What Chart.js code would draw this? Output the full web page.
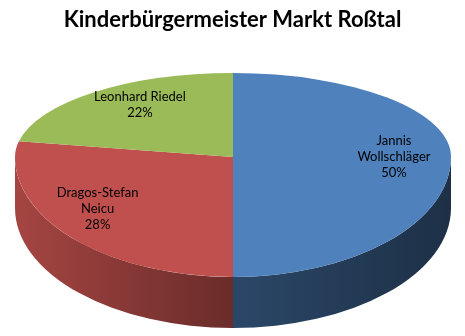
<!DOCTYPE html>
<html lang="de">
<head>
  <meta charset="UTF-8" />
  <title>Kinderbürgermeister Markt Roßtal</title>
  <script src="https://cdn.jsdelivr.net/npm/chart.js"></script>
  <style>
    body { margin: 0; background: #fff; }
    #wrap { width: 465px; height: 336px; }
  </style>
</head>
<body>
  <div id="wrap"><canvas id="pie" width="465" height="336"></canvas></div>

  <script>
    // data
    const candidates = [['Jannis', 'Wollschläger'], ['Dragos-Stefan', 'Neicu'], ['Leonhard Riedel']];
    const shares = [50, 28, 22];
    const sliceColors = ['#4f81bd', '#c0504d', '#9bbb59'];

    // tilted pie on screen: back half is flatter than the front half (perspective)
    const ell = { cx: 233, cy: 157, rx: 218, ryBack: 84, ryFront: 120, depth: 51, persp: 0.1765 };

    function shade(hex, f) {
      const n = parseInt(hex.slice(1), 16);
      const r = Math.round(((n >> 16) & 255) * f);
      const g = Math.round(((n >> 8) & 255) * f);
      const b = Math.round((n & 255) * f);
      return `rgb(${r},${g},${b})`;
    }

    function squash(ctx, arc, ry) {
      const r = arc.outerRadius;
      ctx.translate(ell.cx, ell.cy);
      ctx.scale(ell.rx / r, ry / r);
      ctx.translate(-arc.x, -arc.y);
    }

    const pie3d = {
      id: 'pie3d',
      beforeDatasetsDraw(chart) {
        const ctx = chart.ctx;
        const arcs = chart.getDatasetMeta(0).data;
        const { x, y, outerRadius: r } = arcs[0];

        // side wall, only the front half shows
        ctx.save();
        squash(ctx, arcs[0], ell.ryFront);
        const d = ell.depth * r / ell.ryFront;
        arcs.forEach((arc, i) => {
          const s = Math.max(arc.startAngle, 0);
          const e = Math.min(arc.endAngle, Math.PI);
          if (s >= e) return;
          const grad = ctx.createLinearGradient(x - r, 0, x + r, 0);
          grad.addColorStop(0, shade(sliceColors[i], 0.86));
          grad.addColorStop(0.5, shade(sliceColors[i], 0.55));
          grad.addColorStop(1, shade(sliceColors[i], 0.37));
          ctx.beginPath();
          ctx.arc(x, y, r, s, e);
          ctx.arc(x, y + d, r, e, s, true);
          ctx.closePath();
          ctx.fillStyle = grad;
          ctx.fill();
        });
        ctx.restore();

        // back half of the top face: the library draws it here
        ctx.save();
        ctx.beginPath();
        ctx.rect(0, 0, chart.width, ell.cy);
        ctx.clip();
        squash(ctx, arcs[0], ell.ryBack);
      },
      afterDatasetsDraw(chart) {
        const ctx = chart.ctx;
        ctx.restore();
        const meta = chart.getDatasetMeta(0);
        const arcs = meta.data;

        // front half of the top face
        ctx.save();
        ctx.beginPath();
        ctx.rect(0, ell.cy, chart.width, chart.height - ell.cy);
        ctx.clip();
        squash(ctx, arcs[0], ell.ryFront);
        meta.controller.draw();
        ctx.restore();

        // labels
        const total = shares.reduce((a, b) => a + b, 0);
        ctx.font = '13px Lato';
        ctx.fillStyle = '#000';
        ctx.textAlign = 'center';
        ctx.textBaseline = 'middle';
        const B = ell.ryBack * (1 + ell.persp);
        const A = ell.rx * Math.sqrt(1 - ell.persp * ell.persp);
        arcs.forEach((arc, i) => {
          const mid = (arc.startAngle + arc.endAngle) / 2;
          const u = Math.cos(mid) * 0.75, v = Math.sin(mid) * 0.75;
          const w = 1 - ell.persp * v;
          const px = ell.cx + A * u / w;
          const py = ell.cy + B * v / w;
          const lines = candidates[i].concat([Math.round(shares[i] / total * 100) + '%']);
          const top = py - (lines.length - 1) * 8;
          lines.forEach((t, k) => ctx.fillText(t, px, top + k * 16));
        });
      }
    };

    new Chart(document.getElementById('pie'), {
      type: 'pie',
      data: {
        labels: candidates,
        datasets: [{
          data: shares,
          backgroundColor: sliceColors,
          borderWidth: 0,
          clip: false
        }]
      },
      options: {
        responsive: false,
        animation: false,
        devicePixelRatio: 1,
        events: [],
        plugins: {
          legend: { display: false },
          tooltip: { enabled: false },
          title: {
            display: true,
            text: 'Kinderbürgermeister Markt Roßtal',
            color: '#000',
            font: { family: 'Lato', size: 22, weight: 'bold' },
            padding: { top: 7, bottom: 10 }
          }
        }
      },
      plugins: [pie3d]
    });
  </script>
</body>
</html>
